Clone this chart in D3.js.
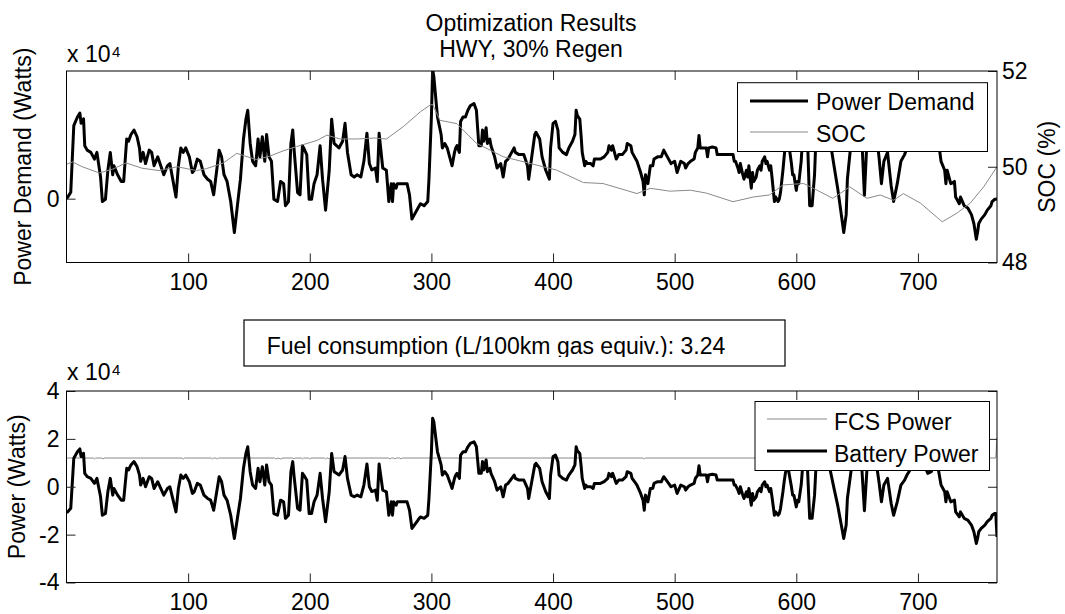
<!DOCTYPE html>
<html><head><meta charset="utf-8">
<script src="https://cdn.jsdelivr.net/npm/d3@7"></script>
<style>
html,body{margin:0;padding:0;background:#fff;}
svg{display:block;font-family:"Liberation Sans",Arial,Helvetica,sans-serif;}
</style></head><body>
<svg id="chart" width="1065" height="614"></svg>
<script>
// ---------------- DATA ----------------
const titleLines = ["Optimization Results", "HWY, 30% Regen"];
const fuelText = "Fuel consumption (L/100km gas equiv.): 3.24";
const xTicks = [100, 200, 300, 400, 500, 600, 700];
const topLeftTicks = [0];
const socTicks = [48, 50, 52];
const bottomTicks = [-4, -2, 0, 2, 4];

// time in seconds
const time = [
0,1,3.5,6,9,11,12,14,15,17,
20,23,25,28,29.5,32,34,36,38,39,
42,45,47,49.5,51,53,55.5,58,60,61,
63,65,68,70,72,75,77.5,80,83,85,
87,90,92,94,96,98,101,103.5,105,107.5,
110,113,116,118.5,121,123.5,125.5,127.5,129.5,132,
135,138,140.5,143,145.5,147.5,149,151,153,155.5,
157.5,159,161,163,164.5,166.5,168.5,170.5,173.5,176,
178.5,180,182.5,184.5,186,187,190,192,194,195,
197.5,199.5,201.5,203.5,206,208.5,210.5,213,216,218,
220,222,224,227,229,231,234,236.5,239,242,
244.5,247,249,251,254,255.5,257,260,263,265,
267,268,269,271,272,276,280,282,284,286,
289,291,294,297,298,300,301,302,304,305,
308,309,311,313,316,317,319,320,321,323,
324,326,328,330,332,335,337,338,339,341,
342,343,345,346,348,349,352,354,357,359,
361,363,365,368,369,372,376,379,380,382,
385,386,389,391,394,397,398,400,402,404,
405,408,411,413,416,418,419,420,422,423,
424,426,427,428,431,433,434,437,439,442,
445,446,448,449,450,452,454,457,460,461,
464,465,467,469,472,474,475,476,478,480,
482,483,486,489,491,494,497,500,502,505,
508,509,511,513,516,517,519,520,521,523,
526,527,528,531,534,535,538,548,549,550,
552,553,554,556,557,559,560,561,563,564,
565,567,568,570,571,572,574,575,576,578,
579,580,582,583,585,586,587,589,590,591,
593,594,596,597,598,600,601,602,604,605,
607,609,611,613,615,616,618,622,626,628,
631,634,637,639,641,642,645,648,652,654,
656,658,662,666,668,670,672,675,678,680,
683,686,689,691,693,698,704,708,711,714,
717,719,722,723,724,727,730,731,734,735,
738,741,744,746,748,749,750,752,755,757,
760,761,763,764,765
];

// Battery power (x 10^4 W)
const batteryPower = [
-1.05,-1.05,-0.9,1.19,1.46,1.58,1.26,1.4,0.56,0.42,
0.35,0.14,0.35,-0.42,-1.19,-1.12,-0.21,0.35,-0.35,-0.07,
-0.35,-0.56,-0.56,0.77,0.7,0.91,1.05,0.84,0.49,0.07,
0.35,0,0.42,0.35,-0.07,0.21,-0.07,-0.35,-0.07,0,
-0.42,-1.05,-0.07,0.49,0.35,0.49,0.21,-0.28,-0.21,0.14,
0.07,-0.35,-0.49,-0.56,-0.98,-0.21,0.42,0.21,-0.35,-0.56,
-1.19,-2.16,-1.32,-0.49,0.77,1.39,1.67,0.63,0.07,-0.07,
0.77,0.21,0.84,0.07,0.91,0.21,0.07,-1.12,-1.19,-0.56,
-0.63,-1.32,-1.19,0.63,1.05,0.49,-0.91,-0.98,0.56,0.49,
0.28,-1.12,-1.12,-0.63,-0.35,0.56,-0.49,-1.46,-0.21,1.39,
0.63,0.56,0.49,0.7,1.26,0.35,-0.35,-0.42,-0.35,-0.42,
0.07,0.95,0,-0.2,-0.14,-0.56,0.95,-0.14,-0.21,-1.19,
-0.63,-1.19,-0.63,-0.77,-0.63,-0.63,-0.63,-0.98,-1.74,-1.6,
-1.39,-1.26,-1.32,-1.19,-0.49,1.46,2.86,2.72,1.88,1.46,
0.91,0.49,0.63,0.49,0.07,-0.07,0.35,0.49,0.56,0.35,
1.32,1.46,1.46,1.67,1.81,1.88,1.67,1.12,0.56,0.56,
1.05,0.7,1.12,0.63,0.77,0.56,0.21,-0.14,0,-0.42,
0.07,0.14,0.28,0.49,0.35,0.28,0.28,-0.07,-0.49,0.07,
0.91,0.98,0.77,0.21,-0.21,-0.49,0.49,1.26,1.32,1.05,
0.49,0.35,0.28,0.49,0.7,0.91,1.67,1.5,1.39,0.91,
0.35,-0.07,0.07,0,0,-0.07,0.14,0.14,0.14,0.21,
0.35,0.56,0.42,0.56,0.42,0.14,0.28,0.28,0.42,0.63,
0.56,0.35,0.21,0.07,-0.28,-0.56,-0.98,-0.35,-0.63,-0.07,
-0.07,0.14,0.21,0.21,0.42,0.21,0,0.07,-0.28,0.07,
0,-0.14,0,0.07,0.14,0.35,0.49,0.88,0.49,0.49,
0.49,0.21,0.49,0.52,0.49,0.28,0.28,0.28,0.07,0.07,
-0.14,-0.28,0,-0.35,-0.49,-0.21,-0.42,-0.07,-0.77,-0.28,
-0.56,-0.42,-0.21,-0.07,-0.21,0.07,0.21,0,0.07,-0.21,
-0.07,-0.42,-1.19,-1.05,-1.19,-1.12,-0.91,-0.21,0.21,0.56,
1.0,0.56,0,-0.35,-0.35,-0.84,-0.56,-0.63,0.07,0.7,
1.1,1.0,-1.32,-1.32,-0.35,0.66,1.2,1.3,1.1,0.66,
-0.07,-0.77,-1.6,-2.16,-1.6,-0.49,0.66,1.2,1.0,0.66,
-1.0,0.66,1.2,0.9,0.2,-0.63,0.07,0.35,-0.7,-1.19,
-0.63,0.07,0.28,0.49,0.66,1.2,1.1,0.56,0.63,1.0,
0.66,0.07,-0.21,-0.63,-0.21,-0.63,-0.56,-1.05,-1.26,-1.05,
-1.32,-1.39,-1.6,-1.88,-2.37,-2.16,-1.88,-1.74,-1.6,-1.46,
-1.32,-1.19,-1.12,-1.12,-2.1
];

// Power demand (x 10^4 W)
const powerDemand = [
0.0,0.05,0.2,2.29,2.56,2.68,2.36,2.5,1.66,1.52,
1.45,1.24,1.45,0.68,-0.09,-0.02,0.89,1.45,0.75,1.03,
0.75,0.54,0.54,1.87,1.8,2.01,2.15,1.94,1.59,1.17,
1.45,1.1,1.52,1.45,1.03,1.31,1.03,0.75,1.03,1.1,
0.68,0.05,1.03,1.59,1.45,1.59,1.31,0.82,0.89,1.24,
1.17,0.75,0.61,0.54,0.12,0.89,1.52,1.31,0.75,0.54,
-0.09,-1.06,-0.22,0.61,1.87,2.49,2.77,1.73,1.17,1.03,
1.87,1.31,1.94,1.17,2.01,1.31,1.17,-0.02,-0.09,0.54,
0.47,-0.22,-0.09,1.73,2.15,1.59,0.19,0.12,1.66,1.59,
1.38,-0.02,-0.02,0.47,0.75,1.66,0.61,-0.36,0.89,2.49,
1.73,1.66,1.59,1.8,2.36,1.45,0.75,0.68,0.75,0.68,
1.17,2.05,1.1,0.9,0.96,0.54,2.05,0.96,0.89,-0.09,
0.47,-0.09,0.47,0.33,0.47,0.47,0.47,0.12,-0.64,-0.5,
-0.29,-0.16,-0.22,-0.09,0.61,2.56,4.05,3.82,2.98,2.56,
2.01,1.59,1.73,1.59,1.17,1.03,1.45,1.59,1.66,1.45,
2.42,2.56,2.56,2.77,2.91,2.98,2.77,2.22,1.66,1.66,
2.15,1.8,2.22,1.73,1.87,1.66,1.31,0.96,1.1,0.68,
1.17,1.24,1.38,1.59,1.45,1.38,1.38,1.03,0.61,1.17,
2.01,2.08,1.87,1.31,0.89,0.61,1.59,2.36,2.42,2.15,
1.59,1.45,1.38,1.59,1.8,2.01,2.77,2.6,2.49,2.01,
1.45,1.03,1.17,1.1,1.1,1.03,1.24,1.24,1.24,1.31,
1.45,1.66,1.52,1.66,1.52,1.24,1.38,1.38,1.52,1.73,
1.66,1.45,1.31,1.17,0.82,0.54,0.12,0.75,0.47,1.03,
1.03,1.24,1.31,1.31,1.52,1.31,1.1,1.17,0.82,1.17,
1.1,0.96,1.1,1.17,1.24,1.45,1.59,1.98,1.59,1.59,
1.59,1.31,1.59,1.62,1.59,1.38,1.38,1.38,1.17,1.17,
0.96,0.82,1.1,0.75,0.61,0.89,0.68,1.03,0.33,0.82,
0.54,0.68,0.89,1.03,0.89,1.17,1.31,1.1,1.17,0.89,
1.03,0.68,-0.09,0.05,-0.09,-0.02,0.19,0.89,1.31,1.66,
2.1,1.66,1.1,0.75,0.75,0.26,0.54,0.47,1.17,1.8,
2.2,2.1,-0.22,-0.22,0.75,1.76,2.3,2.4,2.2,1.76,
1.03,0.33,-0.5,-1.06,-0.5,0.61,1.76,2.3,2.1,1.76,
0.1,1.76,2.3,2.0,1.3,0.47,1.17,1.45,0.4,-0.09,
0.47,1.17,1.38,1.59,1.76,2.3,2.2,1.66,1.73,2.1,
1.76,1.17,0.89,0.47,0.89,0.47,0.54,0.05,-0.16,0.05,
-0.22,-0.29,-0.5,-0.78,-1.27,-1.06,-0.78,-0.64,-0.5,-0.36,
-0.22,-0.09,-0.02,-0.02,0.0
];

// State of charge (%)
const socTime = [0,5,13,27,38,49,62,76,91,107,115,129,140,156,167,178,189,206,214,225,239,253,263,277,291,299,301,307,321,326,337,359,381,403,425,441,469,480,496,513,526,548,565,578,589,606,614,630,644,658,669,680,688,702,720,732,743,754,765];
const socValues = [50.05,50.1,50.0,49.87,49.95,50.08,49.97,49.92,50.0,49.92,49.96,50.08,50.28,50.15,50.22,50.33,50.42,50.55,50.66,50.58,50.58,50.6,50.58,50.84,51.15,51.29,51.3,50.97,50.9,50.77,50.49,50.21,50.07,49.93,49.67,49.65,49.44,49.55,49.49,49.51,49.45,49.27,49.37,49.41,49.62,49.65,49.55,49.34,49.58,49.34,49.41,49.3,49.44,49.24,48.85,49.03,49.24,49.58,50.0];

// FCS power (x 10^4 W)
const fcsTime = [0,22,23,24,29,30,31,95,96,97,119,120,121,123,124,125,171,172,174,176,178,186,187,188,193,194,195,199,200,201,212,213,214,215,216,217,227,228,229,265,266,267,269,270,271,274,275,276,474,475,476,764,765];
const fcsPower = [1.2,1.2,1.16,1.2,1.2,1.16,1.2,1.2,1.16,1.2,1.2,1.16,1.2,1.2,1.16,1.2,1.2,1.16,1.2,1.16,1.2,1.2,1.16,1.2,1.2,1.16,1.2,1.2,1.16,1.2,1.2,1.16,1.2,1.2,1.16,1.2,1.2,1.16,1.2,1.2,1.16,1.2,1.2,1.16,1.2,1.2,1.16,1.2,1.2,1.16,1.2,1.2,2.05];

// ---------------- DRAW ----------------
const FONT = '"Liberation Sans", Arial, Helvetica, sans-serif';
const FS = 23;
const THICK = 3;
const GREY = "#8a8a8a";
const svg = d3.select("#chart");
svg.append("rect").attr("width",1065).attr("height",614).attr("fill","#fff");

const L = 66.5, R = 997;
const top1 = 71, bot1 = 262.5, top2 = 391, bot2 = 582.5;
const x = d3.scaleLinear().domain([0, 765]).range([L, R]);
const yTop = d3.scaleLinear().domain([-2, 4]).range([bot1, top1]);
const ySoc = d3.scaleLinear().domain([48, 52]).range([bot1, top1]);
const yBot = d3.scaleLinear().domain([-4, 4]).range([bot2, top2]);

const defs = svg.append("defs");
defs.append("clipPath").attr("id","clipTop").append("rect").attr("x",L).attr("y",top1).attr("width",R-L).attr("height",bot1-top1);
defs.append("clipPath").attr("id","clipBot").append("rect").attr("x",L).attr("y",top2).attr("width",R-L).attr("height",bot2-top2);
defs.append("clipPath").attr("id","clipFuel").append("rect").attr("x",244).attr("y",320).attr("width",541).attr("height",37);

if (time.length !== batteryPower.length || time.length !== powerDemand.length || fcsTime.length !== fcsPower.length || socTime.length !== socValues.length) {
  svg.append("text").attr("x",10).attr("y",600).attr("fill","red").text("length mismatch");
}

function styleAxis(g) {
  g.attr("font-size", FS).attr("font-family", FONT);
  g.select(".domain").remove();
  g.selectAll(".tick line").attr("stroke", "#222").attr("stroke-width", 1);
  g.selectAll(".tick text").attr("fill", "#000");
}
const fmt = d => String(d);

// ---- Top axes ----
const gTop = svg.append("g");
const demandLine = d3.line().x((d,i) => x(time[i])).y(d => yTop(d));
gTop.append("g").attr("clip-path","url(#clipTop)").append("path")
  .datum(powerDemand).attr("d", demandLine)
  .attr("fill","none").attr("stroke","#000").attr("stroke-width",THICK).attr("stroke-linejoin","round");
const socLine = d3.line().x((d,i) => x(socTime[i])).y(d => ySoc(d));
gTop.append("g").attr("clip-path","url(#clipTop)").append("path")
  .datum(socValues).attr("d", socLine)
  .attr("fill","none").attr("stroke",GREY).attr("stroke-width",1);

gTop.append("g").attr("transform",`translate(0,${bot1})`)
  .call(d3.axisBottom(x).tickValues(xTicks).tickSize(-9).tickPadding(11).tickFormat(fmt)).call(styleAxis);
gTop.append("g").attr("transform",`translate(0,${top1})`)
  .call(d3.axisTop(x).tickValues(xTicks).tickSize(-9).tickFormat("")).call(styleAxis);
gTop.append("g").attr("transform",`translate(${L},0)`)
  .call(d3.axisLeft(yTop).tickValues(topLeftTicks).tickSize(-9).tickPadding(7).tickFormat(fmt)).call(styleAxis);
gTop.append("g").attr("transform",`translate(${R},0)`)
  .call(d3.axisRight(ySoc).tickValues(socTicks).tickSize(-9).tickPadding(5).tickFormat(fmt)).call(styleAxis);
gTop.append("rect").attr("x",L).attr("y",top1).attr("width",R-L).attr("height",bot1-top1)
  .attr("fill","none").attr("stroke","#000").attr("stroke-width",1);

// title
svg.append("text").attr("x",531).attr("y",31).attr("text-anchor","middle").attr("font-size",FS).text(titleLines[0]);
svg.append("text").attr("x",531).attr("y",56.5).attr("text-anchor","middle").attr("font-size",FS).text(titleLines[1]);

// exponent labels
function expLabel(yBase) {
  svg.append("text").attr("x",67).attr("y",yBase).attr("font-size",FS).text("x 10");
  svg.append("text").attr("x",112).attr("y",yBase-5).attr("font-size",15).text("4");
}
expLabel(61.5);
expLabel(380);

// y labels
svg.append("text").attr("transform",`translate(31,${(top1+bot1)/2}) rotate(-90)`)
  .attr("text-anchor","middle").attr("font-size",FS).text("Power Demand (Watts)");
svg.append("text").attr("transform",`translate(1055,${(top1+bot1)/2}) rotate(-90)`)
  .attr("text-anchor","middle").attr("font-size",FS).text("SOC (%)");

// top legend
const lg1 = svg.append("g");
lg1.append("rect").attr("x",737.5).attr("y",82.7).attr("width",250).attr("height",68.8)
  .attr("fill","#fff").attr("stroke","#000").attr("stroke-width",1);
lg1.append("line").attr("x1",750).attr("x2",808).attr("y1",101).attr("y2",101).attr("stroke","#000").attr("stroke-width",THICK);
lg1.append("text").attr("x",816).attr("y",110).attr("font-size",FS).text("Power Demand");
lg1.append("line").attr("x1",750).attr("x2",808).attr("y1",132).attr("y2",132).attr("stroke",GREY).attr("stroke-width",1);
lg1.append("text").attr("x",816).attr("y",141.5).attr("font-size",FS).text("SOC");

// fuel box
svg.append("rect").attr("x",244).attr("y",320).attr("width",541).attr("height",46)
  .attr("fill","#fff").attr("stroke","#000").attr("stroke-width",1.2);
svg.append("text").attr("x",266.7).attr("y",354).attr("font-size",FS).attr("clip-path","url(#clipFuel)").text(fuelText);

// ---- Bottom axes ----
const gBot = svg.append("g");
const fcsLine = d3.line().x((d,i) => x(fcsTime[i])).y(d => yBot(d));
gBot.append("g").attr("clip-path","url(#clipBot)").append("path")
  .datum(fcsPower).attr("d", fcsLine)
  .attr("fill","none").attr("stroke",GREY).attr("stroke-width",1);
const battLine = d3.line().x((d,i) => x(time[i])).y(d => yBot(d));
gBot.append("g").attr("clip-path","url(#clipBot)").append("path")
  .datum(batteryPower).attr("d", battLine)
  .attr("fill","none").attr("stroke","#000").attr("stroke-width",THICK).attr("stroke-linejoin","round");

gBot.append("g").attr("transform",`translate(0,${bot2})`)
  .call(d3.axisBottom(x).tickValues(xTicks).tickSize(-9).tickPadding(11).tickFormat(fmt)).call(styleAxis);
gBot.append("g").attr("transform",`translate(0,${top2})`)
  .call(d3.axisTop(x).tickValues(xTicks).tickSize(-9).tickFormat("")).call(styleAxis);
gBot.append("g").attr("transform",`translate(${L},0)`)
  .call(d3.axisLeft(yBot).tickValues(bottomTicks).tickSize(-9).tickPadding(7).tickFormat(fmt)).call(styleAxis);
gBot.append("g").attr("transform",`translate(${R},0)`)
  .call(d3.axisRight(yBot).tickValues(bottomTicks).tickSize(-9).tickFormat("")).call(styleAxis);
gBot.append("rect").attr("x",L).attr("y",top2).attr("width",R-L).attr("height",bot2-top2)
  .attr("fill","none").attr("stroke","#000").attr("stroke-width",1);

svg.append("text").attr("transform",`translate(25,${(top2+bot2)/2}) rotate(-90)`)
  .attr("text-anchor","middle").attr("font-size",FS).text("Power (Watts)");

// bottom legend
const lg2 = svg.append("g");
lg2.append("rect").attr("x",755).attr("y",401.5).attr("width",234.5).attr("height",69)
  .attr("fill","#fff").attr("stroke","#000").attr("stroke-width",1);
lg2.append("line").attr("x1",767).attr("x2",827).attr("y1",419).attr("y2",419).attr("stroke",GREY).attr("stroke-width",1);
lg2.append("text").attr("x",834).attr("y",430).attr("font-size",FS).text("FCS Power");
lg2.append("line").attr("x1",767).attr("x2",827).attr("y1",451).attr("y2",451).attr("stroke","#000").attr("stroke-width",THICK);
lg2.append("text").attr("x",834).attr("y",461.5).attr("font-size",FS).text("Battery Power");
</script>
</body></html>
